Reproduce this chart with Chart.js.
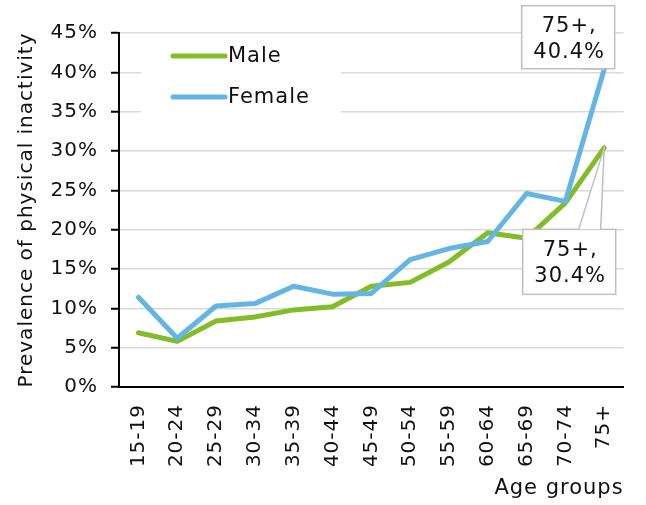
<!DOCTYPE html>
<html>
<head>
<meta charset="utf-8">
<title>Prevalence of physical inactivity by age group</title>
<script src="https://cdn.jsdelivr.net/npm/chart.js@4.4.1/dist/chart.umd.min.js"></script>
<style>
    html, body { margin: 0; padding: 0; background: #fff; }
    #wrap { position: relative; width: 646px; height: 505px; }
</style>
</head>
<body>
<div id="wrap"><canvas id="chart-inactivity" width="646" height="505"></canvas></div>
<script>
const AGE_GROUPS = ['15-19', '20-24', '25-29', '30-34', '35-39', '40-44', '45-49',
                    '50-54', '55-59', '60-64', '65-69', '70-74', '75+'];
const MALE   = [6.9, 5.8, 8.4, 8.9, 9.8, 10.2, 12.8, 13.3, 15.9, 19.6, 18.9, 23.4, 30.4];
const FEMALE = [11.4, 6.2, 10.3, 10.6, 12.8, 11.8, 11.9, 16.2, 17.6, 18.5, 24.6, 23.6, 40.4];
const Y_MIN = 0;
const Y_MAX = 45;
const Y_STEP = 5;

const FONT = 'DejaVu Sans';

// the original text is a bit wider than DejaVu, so spread the letters a little
const wideText = {
    id: 'wideText',
    beforeUpdate(chart){ chart.ctx.letterSpacing = '1px'; },
    beforeDraw(chart){ chart.ctx.letterSpacing = '1px'; }
};

// white legend box sitting inside the plot, top left
const insideLegend = {
    id: 'insideLegend',
    afterDatasetsDraw(chart){
        const ctx = chart.ctx;
        ctx.save();
        ctx.fillStyle = '#fff';
        ctx.fillRect(141, 38, 200, 78);

        chart.data.datasets.forEach((ds, i) => {
            const y = 56 + i * 41;
            ctx.strokeStyle = ds.borderColor;
            ctx.lineWidth = 5;
            ctx.lineCap = 'round';
            ctx.beginPath();
            ctx.moveTo(173, y);
            ctx.lineTo(225, y);
            ctx.stroke();

            ctx.fillStyle = '#111';
            ctx.font = `21px "${FONT}"`;
            ctx.textBaseline = 'middle';
            ctx.textAlign = 'left';
            ctx.fillText(ds.label, 228, y + 1);
        });
        ctx.restore();
    }
};

// callout boxes for the last point of each series
const callouts = {
    id: 'callouts',
    afterDatasetsDraw(chart){
        const ctx = chart.ctx;
        const boxes = [
            { ds: 1, dx: -36, dy: -32, w: 93, h: 63, b1: 60, b2: 77 },
            { ds: 0, dx: -35, dy: 114, w: 93, h: 65, b1: 56, b2: 78 }
        ];

        ctx.save();
        boxes.forEach(b => {
            const idx = AGE_GROUPS.length - 1;
            const pt = chart.getDatasetMeta(b.ds).data[idx];
            const value = chart.data.datasets[b.ds].data[idx];
            const cx = pt.x + b.dx;
            const cy = pt.y + b.dy;
            const left = cx - b.w / 2;
            const top = cy - b.h / 2;
            const edgeY = pt.y > cy ? top + b.h : top;

            ctx.fillStyle = '#fff';
            ctx.strokeStyle = '#bfbfbf';
            ctx.lineWidth = 1.5;
            ctx.fillRect(left, top, b.w, b.h);
            ctx.strokeRect(left, top, b.w, b.h);

            // pointer
            ctx.beginPath();
            ctx.moveTo(left + b.b1, edgeY);
            ctx.lineTo(pt.x, pt.y);
            ctx.lineTo(left + b.b2, edgeY);
            ctx.closePath();
            ctx.fill();
            ctx.beginPath();
            ctx.moveTo(left + b.b1, edgeY);
            ctx.lineTo(pt.x, pt.y);
            ctx.lineTo(left + b.b2, edgeY);
            ctx.stroke();

            ctx.fillStyle = '#111';
            ctx.font = `21px "${FONT}"`;
            ctx.textAlign = 'center';
            ctx.textBaseline = 'middle';
            ctx.fillText(`${AGE_GROUPS[idx]},`, cx + 1, cy - 11);
            ctx.fillText(`${value.toFixed(1)}%`, cx + 1, cy + 15);
        });
        ctx.restore();
    }
};

const ctx = document.getElementById('chart-inactivity');
const inactivityChart = new Chart(ctx, {
    type    : 'line',
    data    : {
        labels  : AGE_GROUPS,
        datasets: [{
            label: 'Male',
            data: MALE,
            borderColor: '#82bc26',
            borderWidth: 5,
            pointRadius: 0,
            borderCapStyle: 'round',
            borderJoinStyle: 'round',
            tension: 0,
            order: 1
        }, {
            label: 'Female',
            data: FEMALE,
            borderColor: '#63b5e5',
            borderWidth: 5,
            pointRadius: 0,
            borderCapStyle: 'round',
            borderJoinStyle: 'round',
            tension: 0,
            order: 0
        }]
    },
    options : {
        responsive: false,
        animation: false,
        layout: { padding: { top: 33, right: 21, left: 0, bottom: 0 } },
        plugins: {
            legend: { display: false },
            tooltip: { enabled: false }
        },
        scales  : {
            x   : {
                offset: true,
                grid: { display: false, drawTicks: false },
                border: { display: true, color: '#000', width: 2 },
                ticks: {
                    maxRotation: 90,
                    minRotation: 90,
                    padding: 17,
                    color: '#111',
                    font: { family: FONT, size: 20 }
                },
                title: {
                    display: true,
                    text: 'Age groups',
                    align: 'end',
                    color: '#111',
                    font: { family: FONT, size: 21 },
                    padding: { top: 0, bottom: 4 }
                },
                afterFit(scale){ scale.height = 118; }
            },
            y   : {
                min: Y_MIN,
                max: Y_MAX,
                ticks: {
                    stepSize: Y_STEP,
                    padding: 13,
                    color: '#111',
                    font: { family: FONT, size: 20 },
                    callback: v => `${v}%`
                },
                grid: {
                    color: '#d9d9d9',
                    lineWidth: 1.5,
                    tickColor: '#000',
                    tickLength: 8,
                    tickWidth: 2
                },
                border: { display: true, color: '#000', width: 2 },
                title: {
                    display: true,
                    text: 'Prevalence of physical inactivity',
                    color: '#111',
                    font: { family: FONT, size: 20 },
                    padding: { top: 15, bottom: 0 }
                },
                afterFit(scale){ scale.width = 119; }
            }
        }
    },
    plugins: [wideText, insideLegend, callouts]
});
</script>
</body>
</html>
